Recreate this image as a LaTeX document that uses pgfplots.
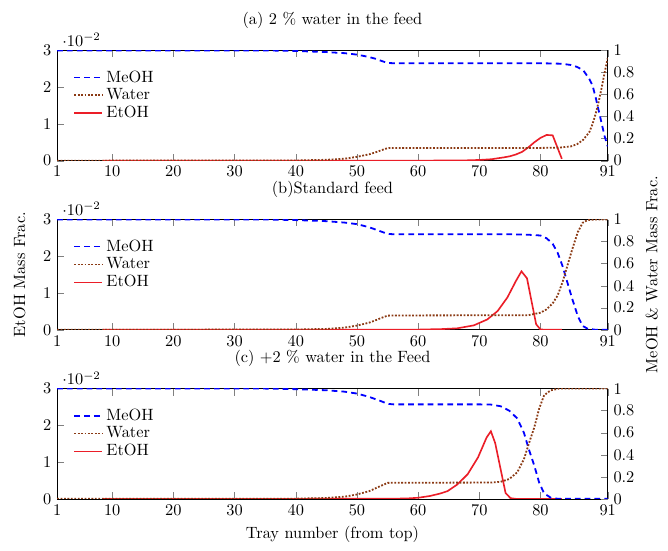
\documentclass[border=0pt]{standalone}
\usepackage{pgfplots}
\pgfplotsset{compat=1.18}
\definecolor{meohc}{rgb}{0,0,1}
\definecolor{waterc}{RGB}{139,58,20}
\definecolor{etohc}{RGB}{235,30,40}
\tikzset{
  meoh/.style={color=meohc,draw=meohc,line width=1.1pt,dash pattern=on 3.5pt off 2.5pt},
  water/.style={color=waterc,draw=waterc,line width=1.1pt,densely dotted},
  etoh/.style={color=etohc,draw=etohc,line width=1pt},
}
\pgfplotsset{
  common/.style={width=337pt,height=67.5pt,scale only axis,xmin=1,xmax=91},
  leftax/.style={common,ymin=0,ymax=0.03,ytick={0,0.01,0.02,0.03},
    xtick={1,10,20,30,40,50,60,70,80,91},
    axis x line=box, axis y line*=left, ylabel shift=4pt,
    title style={at={(0.5,1)},anchor=south,yshift=4pt}},
  rightax/.style={common,ymin=0,ymax=1,ytick={0,0.2,0.4,0.6,0.8,1},
    yticklabels={0,0.2,0.4,0.6,0.8,1},
    axis x line=none, axis y line*=right,
    legend style={draw=none,at={(0.02,0.88)},anchor=north west,
      legend cell align=left,row sep=-1.5pt}},
}
\begin{document}
\begin{tikzpicture}
% ---------- (a)
\begin{axis}[leftax,title={(a) 2 \% water in the feed}]
\addplot[etoh] coordinates {(8.5,0)(60,0.00002)(65,0.00005)(68,0.0001)(70,0.0002)(72,0.0004)(74,0.0009)(75,0.0012)(76,0.0017)(77,0.0024)(78,0.0036)(79,0.0050)(80,0.0062)(81,0.0070)(82,0.0069)(83.5,0.0005)};
\end{axis}
\begin{axis}[rightax]
\addplot[meoh] coordinates {(1,1.0)(35,1.0)(40,0.995)(45,0.985)(48,0.975)(50,0.962)(52,0.94)(53,0.925)(54,0.905)(55,0.886)(56,0.884)(80,0.884)(83,0.88)(84,0.875)(85,0.868)(86,0.85)(87,0.82)(88,0.74)(88.5,0.685)(89,0.58)(89.5,0.46)(90,0.34)(90.5,0.22)(91,0.13)};
\addlegendentry{MeOH}
\addplot[water] coordinates {(1,0)(40,0.002)(45,0.008)(48,0.018)(50,0.035)(52,0.058)(53,0.075)(54,0.095)(55,0.114)(56,0.116)(80,0.116)(83,0.118)(85,0.13)(86,0.15)(87,0.19)(88,0.26)(88.5,0.33)(89,0.42)(89.5,0.53)(90,0.66)(90.5,0.8)(91,0.93)};
\addlegendentry{Water}
\addlegendimage{etoh}
\addlegendentry{EtOH}
\end{axis}
% ---------- (b)
\begin{axis}[leftax,yshift=-103.5pt,title={(b)Standard feed},ylabel={EtOH Mass Frac.}]
\addplot[etoh] coordinates {(8.5,0)(55,0.00002)(60,0.00005)(64,0.0002)(66.4,0.0004)(69.1,0.0012)(71.3,0.0028)(73,0.0051)(74.6,0.0088)(76,0.0133)(76.9,0.0159)(77.8,0.0140)(79.3,0.0015)(80,0.0001)(81,0)(83.5,0)};
\end{axis}
\begin{axis}[rightax,yshift=-103.5pt,ylabel={MeOH \& Water Mass Frac.}]
\addplot[meoh] coordinates {(1,1)(35,1)(40,0.995)(45,0.985)(48,0.972)(50,0.958)(52,0.93)(53,0.91)(54,0.89)(55,0.87)(56,0.866)(75,0.866)(78,0.862)(80,0.855)(81,0.83)(82,0.78)(82.8,0.70)(83.6,0.58)(84.4,0.43)(85.2,0.28)(86.1,0.125)(86.9,0.035)(87.7,0.01)(89,0)(91,0)};
\addlegendentry{MeOH}
\addplot[water] coordinates {(1,0)(40,0.002)(45,0.008)(48,0.02)(50,0.038)(52,0.065)(53,0.085)(54,0.108)(55,0.128)(56,0.13)(78,0.132)(80,0.155)(81,0.185)(82,0.24)(82.8,0.31)(83.6,0.43)(84.4,0.58)(85.2,0.73)(86.1,0.885)(86.9,0.97)(87.7,0.995)(89,1)(91,1)};
\addlegendentry{Water}
\addlegendimage{etoh}
\addlegendentry{EtOH}
\end{axis}
% ---------- (c)
\begin{axis}[leftax,yshift=-207pt,title={(c) +2 \% water in the Feed},xlabel={Tray number (from top)}]
\addplot[etoh] coordinates {(8.5,0)(50,0.00002)(55,0.00005)(58,0.0001)(60,0.0003)(62,0.0008)(63.7,0.0015)(64.8,0.0021)(66.4,0.0039)(68.1,0.0067)(69.8,0.0113)(71.2,0.0167)(71.9,0.0184)(72.6,0.0152)(74.3,0.0016)(75.1,0.0002)(76,0)(83.5,0)};
\end{axis}
\begin{axis}[rightax,yshift=-207pt]
\addplot[meoh] coordinates {(1,1)(35,1)(40,0.995)(45,0.985)(48,0.972)(50,0.955)(52,0.925)(53,0.905)(54,0.885)(55,0.862)(56,0.857)(70,0.857)(71.9,0.855)(73.5,0.84)(74.9,0.80)(76.2,0.73)(77.3,0.60)(78.1,0.45)(79,0.30)(79.8,0.146)(80.6,0.05)(81.7,0.01)(83,0)(91,0)};
\addlegendentry{MeOH}
\addplot[water] coordinates {(1,0)(40,0.002)(45,0.008)(48,0.02)(50,0.04)(52,0.07)(53,0.095)(54,0.12)(55,0.145)(56,0.146)(72,0.148)(73.5,0.155)(74.9,0.18)(76.2,0.24)(77.3,0.36)(78.1,0.50)(79,0.65)(79.8,0.82)(80.6,0.94)(81.7,0.985)(83,1)(91,1)};
\addlegendentry{Water}
\addlegendimage{etoh}
\addlegendentry{EtOH}
\end{axis}
\path ([xshift=-5pt]current bounding box.west) ([xshift=3pt]current bounding box.east);
\path ([yshift=4pt]current bounding box.north) ([yshift=-1.5pt]current bounding box.south);
\end{tikzpicture}
\end{document}
